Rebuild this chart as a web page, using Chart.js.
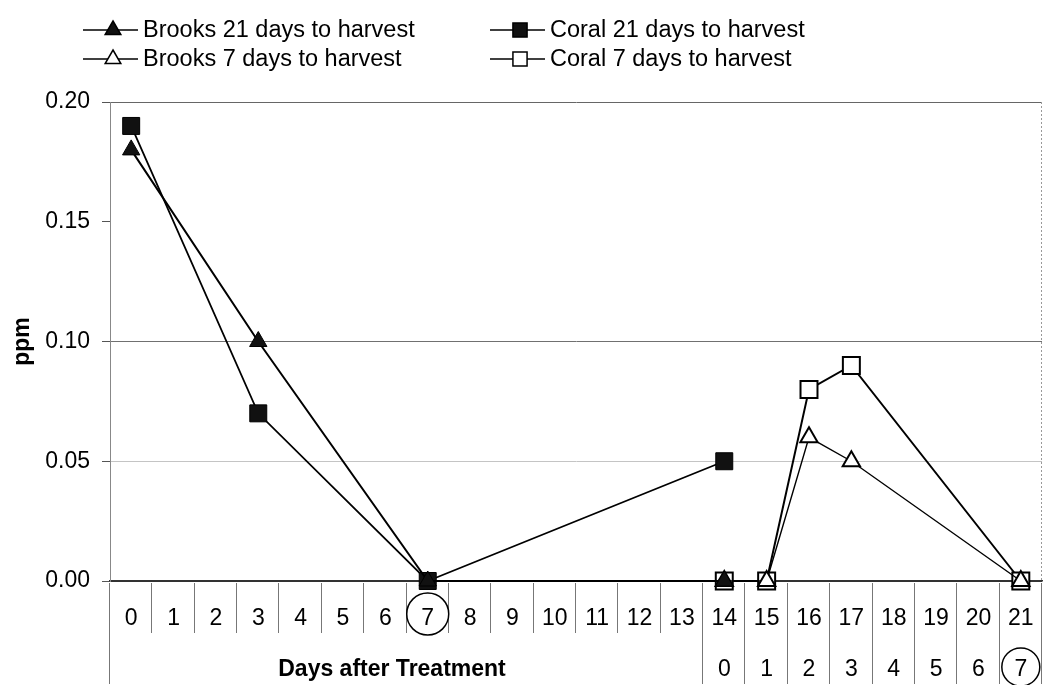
<!DOCTYPE html>
<html>
<head>
<meta charset="utf-8">
<script src="https://cdn.jsdelivr.net/npm/chart.js@4.4.1/dist/chart.umd.min.js"></script>
<style>
  html, body { margin: 0; padding: 0; background: #fff; }
</style>
</head>
<body>
<canvas id="chart" width="1044" height="685"></canvas>
<script>
// Data
const days = ['0','1','2','3','4','5','6','7','8','9','10','11','12','13','14','15','16','17','18','19','20','21'];
// second row under the axis: days to harvest for the 7-day trial
const harvestDays = [null,null,null,null,null,null,null,null,null,null,null,null,null,null,'0','1','2','3','4','5','6','7'];
const circledIdx = 7;        // circled "7" in the first row
const circledHarvestIdx = 21; // circled "7" in the second row
const yTicks = [0, 0.05, 0.10, 0.15, 0.20];

const brooks21 = [0.18,null,null,0.10,null,null,null,0,null,null,null,null,null,null,0,null,null,null,null,null,null,null];
const coral21  = [0.19,null,null,0.07,null,null,null,0,null,null,null,null,null,null,0.05,null,null,null,null,null,null,null];
const brooks7  = [null,null,null,null,null,null,null,null,null,null,null,null,null,null,0,0,0.06,0.05,null,null,null,0];
const coral7   = [null,null,null,null,null,null,null,null,null,null,null,null,null,null,0,0,0.08,0.09,null,null,null,0];

const FONT = "'Liberation Sans', Arial, sans-serif";

function marker(ctx, style, filled, x, y, r) {
  ctx.beginPath();
  if (style === 'triangle') {
    ctx.moveTo(x, y - r);
    ctx.lineTo(x + r * 0.87, y + r * 0.5);
    ctx.lineTo(x - r * 0.87, y + r * 0.5);
    ctx.closePath();
  } else {
    const s = r * Math.SQRT1_2;
    ctx.rect(x - s, y - s, 2 * s, 2 * s);
  }
  ctx.fillStyle = filled ? '#111' : '#fff';
  ctx.fill();
  ctx.stroke();
}

// tick-area table, second row, circles, x title and legend
const decor = {
  id: 'decor',
  afterDraw(chart) {
    const { ctx, chartArea: a, scales: { x } } = chart;
    const w = (a.right - a.left) / days.length;
    const firstHarvest = harvestDays.findIndex(v => v !== null);
    ctx.save();

    // right border of plot
    ctx.strokeStyle = '#999';
    ctx.lineWidth = 1;
    ctx.setLineDash([2, 2]);
    ctx.beginPath();
    ctx.moveTo(a.right - 0.5, a.top);
    ctx.lineTo(a.right - 0.5, a.bottom);
    ctx.stroke();
    ctx.setLineDash([]);

    // separators between categories
    ctx.strokeStyle = '#777';
    for (let i = 0; i <= days.length; i++) {
      const px = Math.round(x.getPixelForValue(Math.min(i, days.length - 1)) + (i === days.length ? w / 2 : -w / 2)) - 0.5;
      const end = (i === 0 || i >= firstHarvest) ? 684 : 633;
      ctx.beginPath();
      ctx.moveTo(px, a.bottom + 2);
      ctx.lineTo(px, end);
      ctx.stroke();
    }

    // second row labels
    ctx.fillStyle = '#000';
    ctx.font = '23px ' + FONT;
    ctx.textAlign = 'center';
    ctx.textBaseline = 'middle';
    harvestDays.forEach((lbl, i) => {
      if (lbl !== null) ctx.fillText(lbl, x.getPixelForValue(i), 670);
    });

    // circles round the harvest days
    ctx.strokeStyle = '#000';
    ctx.lineWidth = 1.5;
    ctx.beginPath();
    ctx.arc(x.getPixelForValue(circledIdx), 614, 21, 0, Math.PI * 2);
    ctx.stroke();
    ctx.beginPath();
    ctx.arc(x.getPixelForValue(circledHarvestIdx), 667, 19, 0, Math.PI * 2);
    ctx.stroke();

    // x title
    ctx.font = 'bold 23px ' + FONT;
    ctx.fillText('Days after Treatment', 392, 670);

    // legend, two columns
    const spots = [[83, 30], [490, 30], [83, 59], [490, 59]];
    chart.data.datasets.forEach((ds, i) => {
      const [lx, ly] = spots[i];
      ctx.strokeStyle = '#000';
      ctx.lineWidth = 1.5;
      ctx.beginPath();
      ctx.moveTo(lx, ly);
      ctx.lineTo(lx + 55, ly);
      ctx.stroke();
      marker(ctx, ds.pointStyle, ds.pointBackgroundColor !== '#fff', lx + 30, ly, ds.pointStyle === 'triangle' ? 9 : 10);
      ctx.fillStyle = '#000';
      ctx.font = '23.5px ' + FONT;
      ctx.textAlign = 'left';
      ctx.fillText(ds.label, lx + 60, ly + 1);
    });
    ctx.restore();
  }
};

new Chart(document.getElementById('chart').getContext('2d'), {
  type: 'line',
  data: {
    labels: days,
    datasets: [
      { label: 'Brooks 21 days to harvest', data: brooks21, borderColor: '#000', borderWidth: 2, clip: false,
        pointStyle: 'triangle', pointRadius: 10, pointBackgroundColor: '#111', pointBorderColor: '#000', pointBorderWidth: 1 },
      { label: 'Coral 21 days to harvest', data: coral21, borderColor: '#000', borderWidth: 1.8, clip: false,
        pointStyle: 'rect', pointRadius: 12, pointBackgroundColor: '#111', pointBorderColor: '#000', pointBorderWidth: 1 },
      { label: 'Brooks 7 days to harvest', data: brooks7, borderColor: '#000', borderWidth: 1.4, clip: false,
        pointStyle: 'triangle', pointRadius: 10, pointBackgroundColor: '#fff', pointBorderColor: '#000', pointBorderWidth: 2 },
      { label: 'Coral 7 days to harvest', data: coral7, borderColor: '#000', borderWidth: 2, clip: false,
        pointStyle: 'rect', pointRadius: 12, pointBackgroundColor: '#fff', pointBorderColor: '#000', pointBorderWidth: 2 }
    ]
  },
  options: {
    responsive: false,
    animation: false,
    spanGaps: true,
    layout: { autoPadding: false, padding: { top: 102, right: 2, left: 0, bottom: 0 } },
    plugins: { legend: { display: false }, tooltip: { enabled: false } },
    scales: {
      x: {
        type: 'category',
        offset: true,
        afterFit: s => { s.height = 104; s.paddingLeft = 0; s.paddingRight = 0; },
        grid: { drawOnChartArea: false, drawTicks: true, tickLength: 21, tickColor: 'rgba(0,0,0,0)' },
        border: { color: '#333', width: 1.5 },
        ticks: { color: '#000', font: { size: 23, family: FONT }, padding: 3, autoSkip: false, maxRotation: 0 }
      },
      y: {
        min: 0,
        max: 0.2,
        afterFit: s => { s.width = 110; },
        afterBuildTicks: s => { s.ticks = yTicks.map(v => ({ value: v })); },
        grid: {
          color: c => {
            const v = c.tick ? Math.round(c.tick.value * 100) : -1;
            if (v === 10) return '#707070';
            if (v === 5) return '#c4c4c4';
            if (v === 20) return '#666';
            if (v === 0) return '#333';
            return 'rgba(0,0,0,0)';
          },
          tickColor: '#555',
          tickLength: 8,
          lineWidth: 1
        },
        border: { color: '#888', width: 1 },
        ticks: { color: '#000', font: { size: 23, family: FONT }, padding: 12, callback: v => v.toFixed(2) },
        title: { display: true, text: 'ppm', color: '#000', font: { size: 23, weight: 'bold', family: FONT }, padding: { top: 9, bottom: 0 } }
      }
    }
  },
  plugins: [decor]
});
</script>
</body>
</html>
